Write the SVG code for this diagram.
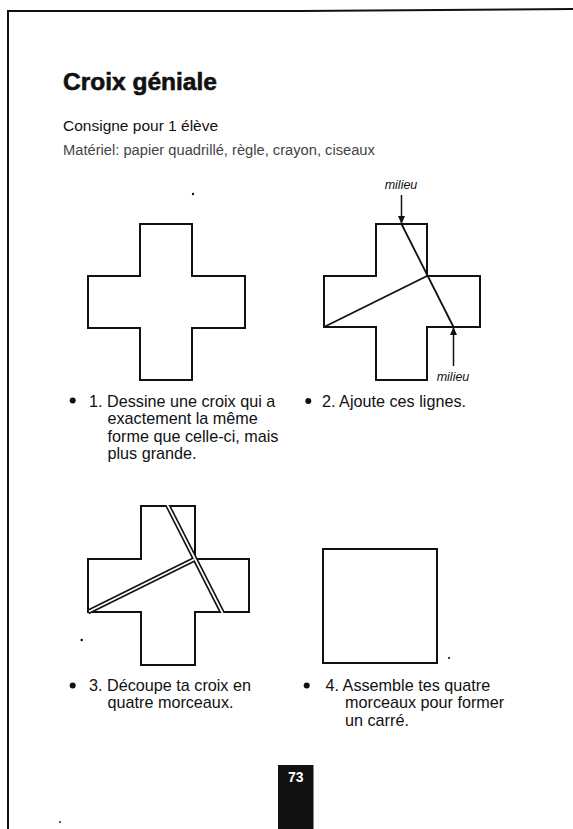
<svg xmlns="http://www.w3.org/2000/svg" width="573" height="829" viewBox="0 0 573 829">
<style>
  text { font-family: "Liberation Sans", Arial, sans-serif; fill: #111; }
  .title { font-size: 24.5px; font-weight: bold; stroke: #111; stroke-width: 0.6; }
  .sub { font-size: 15.5px; }
  .mat { font-size: 14.7px; fill: #444; }
  .item { font-size: 16.2px; }
  .mil { font-size: 12.5px; font-style: italic; }
  .shape { fill: none; stroke: #111; stroke-width: 2; stroke-linejoin: miter; }
  .cut { stroke: #111; stroke-width: 1.8; }
  .dcut { stroke: #111; stroke-width: 5; }
  .wcut { stroke: #fff; stroke-width: 1.8; }
  .arrow { stroke: #111; stroke-width: 1.5; }
  .dot { fill: #111; }
</style>
<defs>
  <marker id="ah" markerWidth="8" markerHeight="10" refX="7" refY="5" orient="auto" markerUnits="userSpaceOnUse">
    <path d="M0,1.5 L8,5 L0,8.5 Z" fill="#111"/>
  </marker>
</defs>
<rect width="573" height="829" fill="#fff"/>

<g id="frame" fill="none" stroke="#111" stroke-width="2">
  <path d="M8,829 L8,11 L300,11 L573,9"/>
</g>

<g id="header">
  <text class="title" x="63" y="90">Croix géniale</text>
  <text class="sub" x="63" y="130.5">Consigne pour 1 élève</text>
  <text class="mat" x="63" y="155">Matériel: papier quadrillé, règle, crayon, ciseaux</text>
</g>

<g id="cross1">
  <path class="shape" d="M140,224 H192 V276 H245 V328 H192 V380 H140 V328 H88 V276 H140 Z"/>
</g>

<g id="cross2">
  <path class="shape" d="M376,224 H427 V276 H480 V327 H427 V380 H376 V327 H324 V276 H376 Z"/>
  <line class="cut" x1="401.5" y1="224" x2="453.5" y2="327"/>
  <line class="cut" x1="324" y1="327" x2="427" y2="276"/>
</g>

<g id="connectors">
  <line class="arrow" x1="401.5" y1="195" x2="401.5" y2="223" marker-end="url(#ah)"/>
  <line class="arrow" x1="453.5" y1="366" x2="453.5" y2="328" marker-end="url(#ah)"/>
</g>

<g id="labels-milieu">
  <text class="mil" x="401" y="188.5" text-anchor="middle">milieu</text>
  <text class="mil" x="453" y="380.5" text-anchor="middle">milieu</text>
</g>

<g id="cross3">
  <path class="shape" d="M141,506 H195 V559 H249 V612 H195 V665 H141 V612 H88 V559 H141 Z"/>
  <line class="dcut" x1="168" y1="506" x2="222" y2="612"/>
  <line class="dcut" x1="88" y1="612" x2="195" y2="559"/>
  <line class="wcut" x1="167.4" y1="504.8" x2="222.6" y2="613.2"/>
  <line class="wcut" x1="89" y1="611.5" x2="194" y2="559.5"/>
</g>

<g id="square">
  <rect class="shape" x="323" y="549" width="114" height="114"/>
</g>

<g id="item1">
  <circle class="dot" cx="72.7" cy="400.5" r="3"/>
  <text class="item" x="89" y="406.5">1. Dessine une croix qui a</text>
  <text class="item" x="107.5" y="424">exactement la même</text>
  <text class="item" x="107.5" y="441.5">forme que celle-ci, mais</text>
  <text class="item" x="107.5" y="459">plus grande.</text>
</g>

<g id="item2">
  <circle class="dot" cx="308.3" cy="401" r="3"/>
  <text class="item" x="322" y="406.5">2. Ajoute ces lignes.</text>
</g>

<g id="item3">
  <circle class="dot" cx="72.7" cy="685.5" r="3"/>
  <text class="item" x="89" y="690.5">3. Découpe ta croix en</text>
  <text class="item" x="107.5" y="708">quatre morceaux.</text>
</g>

<g id="item4">
  <circle class="dot" cx="306.7" cy="685.5" r="3"/>
  <text class="item" x="325.5" y="690.5">4. Assemble tes quatre</text>
  <text class="item" x="345" y="708">morceaux pour former</text>
  <text class="item" x="345" y="725.5">un carré.</text>
</g>

<g id="page-number">
  <rect x="278" y="765" width="35.5" height="64" fill="#111"/>
  <text x="295.7" y="782" text-anchor="middle" font-size="14" font-weight="bold" style="fill:#fff">73</text>
</g>

<g id="specks" class="dot">
  <circle cx="193" cy="194" r="1.2"/>
  <circle cx="81.7" cy="640" r="1.3"/>
  <circle cx="449" cy="658" r="1.1"/>
  <circle cx="60" cy="822" r="0.9"/>
</g>
</svg>
